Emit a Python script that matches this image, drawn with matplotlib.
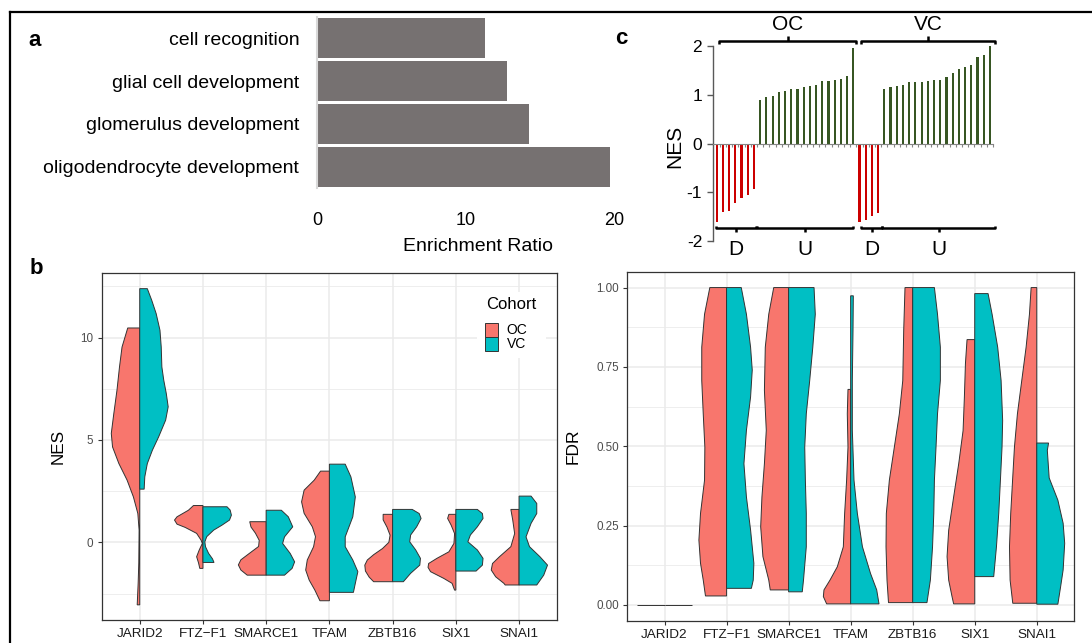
import numpy as np
import matplotlib.pyplot as plt
from matplotlib.lines import Line2D
from matplotlib.patches import Rectangle

plt.rcParams['font.family'] = ['Liberation Sans', 'DejaVu Sans']

W, H = 1092, 643

# ---- panel a: GO enrichment
go_terms = ['cell recognition', 'glial cell development',
            'glomerulus development', 'oligodendrocyte development']
enrichment = [11.3, 12.8, 14.3, 19.7]

# ---- panel c: NES per gene set, split by cohort and direction
nes_oc_down = [-1.61, -1.40, -1.39, -1.23, -1.12, -1.06, -0.94]
nes_oc_up = [0.90, 0.95, 0.97, 1.05, 1.08, 1.12, 1.12, 1.16, 1.18, 1.21,
             1.29, 1.29, 1.30, 1.32, 1.38, 1.96]
nes_vc_down = [-1.61, -1.57, -1.49, -1.42]
nes_vc_up = [1.12, 1.16, 1.18, 1.20, 1.26, 1.26, 1.26, 1.28, 1.30, 1.30,
             1.36, 1.45, 1.53, 1.57, 1.61, 1.77, 1.82, 2.02]

# ---- panel b: split violins, outline as [value, half width] from top to bottom
genes = ['JARID2', 'FTZ\u2212F1', 'SMARCE1', 'TFAM', 'ZBTB16', 'SIX1', 'SNAI1']
cohorts = ['OC', 'VC']
cohort_colors = ['#F8766D', '#00BFC4']

nes_oc_profiles = [
    [[10.47, 0.19], [9.54, 0.28], [8.57, 0.32], [7.43, 0.36], [6.29, 0.41], [5.32, 0.45],
     [4.66, 0.43], [3.85, 0.33], [3.04, 0.20], [2.22, 0.10], [1.41, 0.03], [0.60, 0.01],
     [-1.0, 0.015], [-2.0, 0.025], [-3.05, 0.04]],
    [[1.80, 0.15], [1.57, 0.23], [1.25, 0.41], [1.09, 0.45], [0.89, 0.41], [0.73, 0.28],
     [0.44, 0.10], [0.11, 0.03], [-0.05, 0.01], [-0.38, 0.06], [-0.70, 0.10], [-1.00, 0.07],
     [-1.27, 0.05]],
    [[1.01, 0.26], [0.75, 0.24], [0.45, 0.17], [0.10, 0.11], [-0.20, 0.12], [-0.50, 0.25],
     [-0.85, 0.40], [-1.10, 0.44], [-1.35, 0.40], [-1.60, 0.30]],
    [[3.48, 0.14], [3.04, 0.24], [2.55, 0.40], [1.98, 0.44], [1.42, 0.40], [0.76, 0.27],
     [0.28, 0.22], [-0.21, 0.25], [-0.86, 0.35], [-1.35, 0.375], [-1.84, 0.32], [-2.33, 0.23],
     [-2.85, 0.15]],
    [[1.37, 0.15], [1.10, 0.15], [0.75, 0.09], [0.35, 0.04], [0.0, 0.06], [-0.30, 0.16],
     [-0.60, 0.30], [-0.86, 0.40], [-1.11, 0.44], [-1.40, 0.43], [-1.70, 0.37], [-1.92, 0.30]],
    [[1.37, 0.11], [1.17, 0.13], [0.84, 0.074], [0.43, 0.02], [-0.05, 0.03], [-0.46, 0.11],
     [-0.78, 0.30], [-1.03, 0.43], [-1.22, 0.44], [-1.43, 0.40], [-1.76, 0.19], [-2.0, 0.06],
     [-2.33, 0.02]],
    [[1.61, 0.13], [1.09, 0.10], [0.43, 0.07], [-0.21, 0.13], [-0.70, 0.31], [-1.03, 0.42],
     [-1.35, 0.44], [-1.68, 0.37], [-2.0, 0.24], [-2.08, 0.22]],
]
nes_vc_profiles = [
    [[12.39, 0.12], [11.82, 0.19], [11.17, 0.26], [10.36, 0.32], [9.54, 0.34], [8.57, 0.35],
     [7.92, 0.38], [7.27, 0.42], [6.62, 0.45], [5.97, 0.41], [5.16, 0.30], [4.50, 0.20],
     [3.85, 0.12], [3.20, 0.08], [2.60, 0.07]],
    [[1.74, 0.38], [1.58, 0.43], [1.33, 0.45], [1.09, 0.42], [0.84, 0.30], [0.60, 0.17],
     [0.28, 0.06], [0.03, 0.03], [-0.21, 0.04], [-0.54, 0.09], [-0.80, 0.15], [-0.98, 0.175]],
    [[1.57, 0.24], [1.25, 0.35], [0.76, 0.42], [0.27, 0.29], [-0.05, 0.26], [-0.54, 0.38],
     [-0.95, 0.45], [-1.27, 0.41], [-1.60, 0.29]],
    [[3.82, 0.25], [3.20, 0.34], [2.22, 0.41], [1.25, 0.37], [0.27, 0.25], [-0.21, 0.25],
     [-0.86, 0.37], [-1.43, 0.45], [-2.0, 0.41], [-2.44, 0.38]],
    [[1.61, 0.31], [1.41, 0.42], [1.17, 0.45], [0.76, 0.38], [0.36, 0.285], [0.03, 0.27],
     [-0.37, 0.365], [-0.78, 0.44], [-1.11, 0.43], [-1.51, 0.285], [-1.92, 0.17]],
    [[1.61, 0.34], [1.41, 0.42], [1.17, 0.43], [0.76, 0.34], [0.36, 0.23], [0.03, 0.19],
     [-0.37, 0.34], [-0.78, 0.43], [-1.11, 0.42], [-1.40, 0.32]],
    [[2.26, 0.19], [1.90, 0.28], [1.41, 0.28], [0.93, 0.19], [0.27, 0.11], [-0.21, 0.165],
     [-0.70, 0.33], [-1.11, 0.45], [-1.60, 0.39], [-2.08, 0.28]],
]
fdr_oc_profiles = [
    [[0.0, 0.44], [0.0, 0.44]],
    [[1.0, 0.27], [0.916, 0.355], [0.812, 0.40], [0.707, 0.40], [0.602, 0.376], [0.497, 0.35],
     [0.393, 0.355], [0.288, 0.42], [0.204, 0.446], [0.131, 0.42], [0.078, 0.376], [0.028, 0.34]],
    [[1.0, 0.24], [0.916, 0.32], [0.812, 0.376], [0.676, 0.39], [0.55, 0.36], [0.445, 0.39],
     [0.34, 0.43], [0.246, 0.45], [0.152, 0.414], [0.078, 0.32], [0.047, 0.296]],
    [[0.679, 0.043], [0.602, 0.054], [0.497, 0.043], [0.393, 0.065], [0.288, 0.097],
     [0.183, 0.118], [0.12, 0.215], [0.078, 0.333], [0.047, 0.43], [0.026, 0.44], [0.003, 0.387]],
    [[1.0, 0.124], [0.864, 0.145], [0.707, 0.16], [0.602, 0.215], [0.497, 0.296], [0.393, 0.376],
     [0.288, 0.425], [0.183, 0.43], [0.078, 0.414], [0.007, 0.39]],
    [[0.836, 0.124], [0.76, 0.15], [0.654, 0.167], [0.549, 0.188], [0.445, 0.258], [0.34, 0.34],
     [0.235, 0.42], [0.152, 0.446], [0.078, 0.42], [0.026, 0.366], [0.003, 0.34]],
    [[1.0, 0.091], [0.916, 0.118], [0.812, 0.172], [0.707, 0.242], [0.602, 0.312], [0.497, 0.36],
     [0.393, 0.39], [0.288, 0.42], [0.183, 0.44], [0.078, 0.43], [0.005, 0.387]],
]
fdr_vc_profiles = [
    [[0.0, 0.44], [0.0, 0.44]],
    [[1.0, 0.237], [0.916, 0.32], [0.812, 0.387], [0.74, 0.414], [0.655, 0.387], [0.55, 0.32],
     [0.445, 0.28], [0.34, 0.32], [0.236, 0.387], [0.131, 0.44], [0.078, 0.43], [0.052, 0.40]],
    [[1.0, 0.41], [0.916, 0.43], [0.812, 0.39], [0.707, 0.34], [0.602, 0.285], [0.497, 0.26],
     [0.393, 0.27], [0.288, 0.285], [0.183, 0.285], [0.078, 0.24], [0.041, 0.22]],
    [[0.974, 0.043], [0.864, 0.038], [0.707, 0.027], [0.55, 0.027], [0.393, 0.054],
     [0.288, 0.108], [0.183, 0.19], [0.099, 0.32], [0.047, 0.42], [0.003, 0.457]],
    [[1.0, 0.35], [0.916, 0.40], [0.812, 0.446], [0.707, 0.446], [0.602, 0.40], [0.497, 0.376],
     [0.393, 0.35], [0.288, 0.34], [0.183, 0.32], [0.078, 0.285], [0.007, 0.23]],
    [[0.981, 0.215], [0.916, 0.28], [0.812, 0.37], [0.707, 0.425], [0.581, 0.45], [0.497, 0.44],
     [0.393, 0.414], [0.288, 0.387], [0.183, 0.35], [0.089, 0.306]],
    [[0.51, 0.19], [0.487, 0.17], [0.40, 0.2], [0.33, 0.34], [0.257, 0.425], [0.194, 0.45],
     [0.11, 0.425], [0.058, 0.385], [0.002, 0.34]],
]


def rect(l, r, t, b):
    # pixel box -> figure fraction
    return [l / W, 1 - b / H, (r - l) / W, (b - t) / H]


def half_violin(ax, pos, prof, side, color):
    prof = np.array(prof)
    y, w = prof[:, 0], prof[:, 1]
    px = np.concatenate([[pos], pos + side * w, [pos]])
    py = np.concatenate([[y[0]], y, [y[-1]]])
    ax.fill(px, py, facecolor=color, edgecolor='#333333', linewidth=0.7, zorder=3)


def gg_axes(ax, ylim, major, minor, labels):
    ax.set_xlim(0.4, 7.6)
    ax.set_ylim(*ylim)
    ax.set_xticks(range(1, 8))
    ax.set_xticklabels(genes, fontsize=9.7, color='#1a1a1a')
    ax.set_yticks(major)
    ax.set_yticklabels(labels, fontsize=8.4, color='#4D4D4D')
    ax.set_yticks(minor, minor=True)
    ax.tick_params(which='major', length=3, width=0.8, color='#333333', pad=3)
    ax.tick_params(which='minor', length=0)
    ax.grid(which='major', color='#EBEBEB', linewidth=1.1)
    ax.grid(which='minor', axis='y', color='#EBEBEB', linewidth=0.6)
    ax.set_axisbelow(True)
    for s in ax.spines.values():
        s.set_color('#333333')
        s.set_linewidth(0.9)


fig = plt.figure(figsize=(W / 100, H / 100), dpi=100)

# ---------------- panel a
ax_a = fig.add_axes(rect(317.4, 614, 16.9, 188.1))
ax_a.barh(range(len(go_terms)), enrichment, height=0.93, color='#767171')
ax_a.set_ylim(len(go_terms) - 0.5, -0.5)
ax_a.set_xlim(0, 20)
ax_a.set_yticks(range(len(go_terms)))
ax_a.set_yticklabels(go_terms, fontsize=14)
ax_a.set_xticks([0, 10, 20])
ax_a.set_xticklabels(['0', '10', '20'], fontsize=13)
ax_a.tick_params(axis='y', length=0, pad=13)
ax_a.tick_params(axis='x', length=0, pad=17)
for s in ['top', 'right', 'bottom']:
    ax_a.spines[s].set_visible(False)
ax_a.spines['left'].set_color('#D9D9D9')
ax_a.spines['left'].set_linewidth(1.5)
fig.text(478 / W, 1 - 247 / H, 'Enrichment Ratio', ha='center', va='center', fontsize=14)

# ---------------- panel c
ax_c = fig.add_axes(rect(713.3, 993, 46, 241))
groups = [(nes_oc_down, '#CC0000'), (nes_oc_up, '#375623'),
          (nes_vc_down, '#CC0000'), (nes_vc_up, '#375623')]
start = 0
bounds = [0]
for vals, col in groups:
    xs = np.arange(start, start + len(vals))
    ax_c.bar(xs, vals, width=0.35, color=col, zorder=2)
    start += len(vals)
    bounds.append(start)
ax_c.set_xlim(-0.55, start - 0.55)
ax_c.set_ylim(-2, 2)
ax_c.set_yticks([-2, -1, 0, 1, 2])
ax_c.set_yticklabels(['-2', '-1', '0', '1', '2'], fontsize=12.5)
ax_c.set_xticks(np.arange(0, start) + 0.5, minor=True)
ax_c.set_xticks([])
ax_c.tick_params(axis='x', which='minor', length=2, width=0.8, color='#868686')
ax_c.tick_params(axis='y', length=4, width=1, color='#595959', pad=4)
for s in ['top', 'right']:
    ax_c.spines[s].set_visible(False)
ax_c.spines['bottom'].set_position(('data', 0))
ax_c.spines['bottom'].set_color('#868686')
ax_c.spines['left'].set_color('#595959')
ax_c.spines['left'].set_linewidth(1)
ax_c.patch.set_alpha(0)
fig.text(675 / W, 1 - 146.7 / H, 'NES', rotation=90, ha='center', va='center', fontsize=15)


def bracket(ax, x0, x1, y, hook, tick, label, ly):
    kw = dict(color='black', linewidth=1.8, clip_on=False, solid_capstyle='butt')
    ax.plot([x0, x0, x1, x1], [y + hook, y, y, y + hook], **kw)
    xm = (x0 + x1) / 2
    ax.plot([xm, xm], [y, y + tick], **kw)
    ax.text(xm, ly, label, ha='center', va='center', fontsize=15, clip_on=False)


b0, b1, b2, b3, b4 = bounds
bracket(ax_c, b0 + 0.4, b2 - 0.5, 2.11, -0.06, 0.09, 'OC', 2.45)
bracket(ax_c, b2 + 0.2, b4 - 0.1, 2.11, -0.06, 0.09, 'VC', 2.45)
bracket(ax_c, b0 - 0.1, b1 - 0.7, -1.74, 0.05, -0.08, 'D', -2.18)
bracket(ax_c, b1 - 0.5, b2 - 1.1, -1.74, 0.05, -0.08, 'U', -2.18)
bracket(ax_c, b2 + 0.2, b3 - 0.3, -1.74, 0.05, -0.08, 'D', -2.18)
bracket(ax_c, b3 - 0.3, b4 - 0.1, -1.74, 0.05, -0.08, 'U', -2.18)

# ---------------- panel b: NES violins
ax_b = fig.add_axes(rect(101.8, 557, 273.3, 620))
for i in range(len(genes)):
    half_violin(ax_b, i + 1, nes_oc_profiles[i], -1, cohort_colors[0])
    half_violin(ax_b, i + 1, nes_vc_profiles[i], 1, cohort_colors[1])
gg_axes(ax_b, (-3.79, 13.14), [0, 5, 10], [-2.5, 2.5, 7.5, 12.5], ['0', '5', '10'])
ax_b.set_ylabel('NES', fontsize=12.3)
ax_b.yaxis.set_label_coords(-0.079, 0.5)

# legend box (ggplot style, inside the panel)
ax_b.add_patch(Rectangle((0.824, 0.756), 0.152, 0.19, transform=ax_b.transAxes,
                         facecolor='white', edgecolor='none', zorder=4))
ax_b.text(0.844, 0.909, 'Cohort', transform=ax_b.transAxes, ha='left', va='center',
          fontsize=12, zorder=5)
for k, (lab, col) in enumerate(zip(cohorts, cohort_colors)):
    y0 = 0.817 - 0.04 * k
    ax_b.add_patch(Rectangle((0.842, y0), 0.029, 0.04, transform=ax_b.transAxes,
                             facecolor=col, edgecolor='#333333', linewidth=0.7, zorder=5))
    ax_b.text(0.889, y0 + 0.02, lab, transform=ax_b.transAxes, ha='left', va='center',
              fontsize=10, zorder=5)

# ---------------- FDR violins
ax_f = fig.add_axes(rect(627.3, 1074, 271.7, 620.7))
for i in range(len(genes)):
    half_violin(ax_f, i + 1, fdr_oc_profiles[i], -1, cohort_colors[0])
    half_violin(ax_f, i + 1, fdr_vc_profiles[i], 1, cohort_colors[1])
gg_axes(ax_f, (-0.05, 1.05), [0, 0.25, 0.5, 0.75, 1.0], [0.125, 0.375, 0.625, 0.875],
        ['0.00', '0.25', '0.50', '0.75', '1.00'])
ax_f.set_ylabel('FDR', fontsize=12.5)
ax_f.yaxis.set_label_coords(-0.105, 0.5)

# ---------------- frame and panel letters
fig.add_artist(Line2D([10 / W, 1], [1 - 12 / H, 1 - 12 / H], transform=fig.transFigure,
                      color='black', linewidth=1.6))
fig.add_artist(Line2D([10 / W, 10 / W], [0, 1 - 12 / H], transform=fig.transFigure,
                      color='black', linewidth=1.6))
for letter, x, y in [('a', 35, 40), ('b', 36, 268), ('c', 621, 38)]:
    fig.text(x / W, 1 - y / H, letter, ha='center', va='center', fontsize=16, fontweight='bold')

fig.savefig('out.png', dpi=100)
